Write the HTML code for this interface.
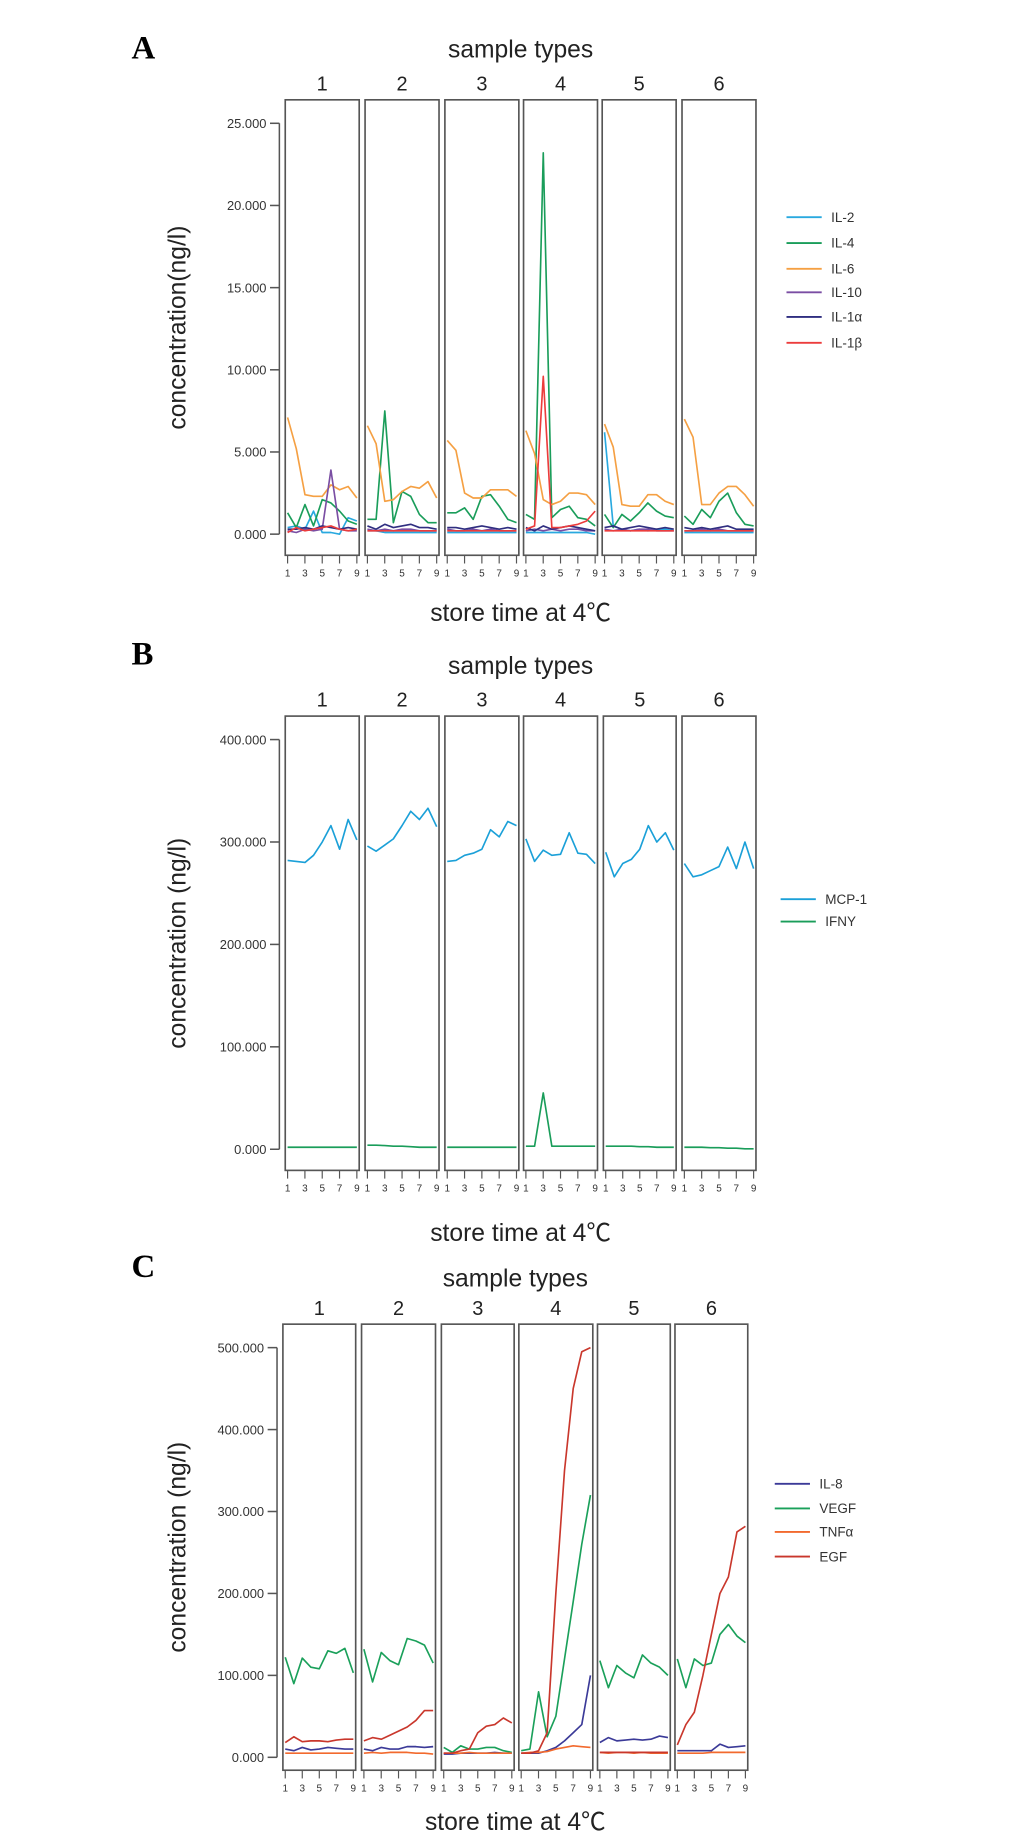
<!DOCTYPE html>
<html><head><meta charset="utf-8"><style>
html,body{margin:0;padding:0;background:#fff;}
svg{display:block;font-family:"Liberation Sans",Arial,sans-serif;}
</style></head><body>
<svg id="fig" width="1033" height="1836" viewBox="0 0 880 1564" xmlns="http://www.w3.org/2000/svg"></svg>
<script>
// ---------- Data ----------
const sampleTypes = ["1","2","3","4","5","6"];
const timeTicks = ["1","3","5","7","9"];
// Panel A (ng/l, thousands)
const aSeriesNames = ["IL-2","IL-4","IL-6","IL-10","IL-1α","IL-1β"];
const aIL2 = [[0.4,0.5,0.3,1.4,0.1,0.1,0.0,1.0,0.8],[0.2,0.2,0.1,0.1,0.1,0.1,0.1,0.1,0.1],[0.1,0.1,0.1,0.1,0.1,0.1,0.1,0.1,0.1],[0.1,0.1,0.1,0.1,0.1,0.1,0.1,0.1,0.0],[6.2,0.5,0.3,0.2,0.3,0.2,0.3,0.3,0.2],[0.1,0.1,0.1,0.1,0.1,0.1,0.1,0.1,0.1]];
const aIL4 = [[1.3,0.4,1.8,0.5,2.1,1.9,1.4,0.8,0.6],[0.9,0.9,7.5,0.7,2.6,2.3,1.2,0.7,0.7],[1.3,1.3,1.6,0.9,2.3,2.4,1.7,0.9,0.7],[1.2,0.9,23.2,1.0,1.5,1.7,1.0,0.9,0.5],[1.2,0.4,1.2,0.8,1.3,1.9,1.4,1.1,1.0],[1.1,0.6,1.5,1.0,2.0,2.5,1.3,0.6,0.5]];
const aIL6 = [[7.1,5.2,2.4,2.3,2.3,3.0,2.7,2.9,2.2],[6.6,5.5,2.0,2.1,2.6,2.9,2.8,3.2,2.2],[5.7,5.1,2.5,2.2,2.2,2.7,2.7,2.7,2.3],[6.3,4.9,2.1,1.8,2.0,2.5,2.5,2.4,1.8],[6.7,5.3,1.8,1.7,1.7,2.4,2.4,2.0,1.8],[7.0,5.9,1.8,1.8,2.5,2.9,2.9,2.4,1.7]];
const aIL10 = [[0.2,0.1,0.3,0.2,0.3,3.9,0.3,0.2,0.2],[0.3,0.2,0.3,0.2,0.3,0.3,0.2,0.2,0.2],[0.3,0.2,0.2,0.3,0.2,0.3,0.2,0.2,0.2],[0.2,0.3,0.2,0.3,0.2,0.3,0.3,0.2,0.2],[0.3,0.2,0.3,0.2,0.3,0.3,0.2,0.2,0.2],[0.2,0.2,0.3,0.2,0.3,0.2,0.2,0.2,0.2]];
const aIL1a = [[0.3,0.3,0.4,0.3,0.5,0.4,0.3,0.4,0.3],[0.5,0.3,0.6,0.4,0.5,0.6,0.4,0.4,0.3],[0.4,0.4,0.3,0.4,0.5,0.4,0.3,0.4,0.3],[0.4,0.2,0.5,0.3,0.4,0.5,0.4,0.3,0.2],[0.4,0.5,0.3,0.4,0.5,0.4,0.3,0.4,0.3],[0.4,0.3,0.4,0.3,0.4,0.5,0.3,0.3,0.3]];
const aIL1b = [[0.1,0.4,0.2,0.3,0.4,0.5,0.3,0.2,0.3],[0.2,0.2,0.2,0.2,0.2,0.2,0.2,0.2,0.2],[0.2,0.2,0.2,0.2,0.2,0.2,0.2,0.2,0.2],[0.3,0.5,9.6,0.4,0.4,0.5,0.6,0.8,1.4],[0.2,0.2,0.2,0.2,0.2,0.2,0.2,0.2,0.2],[0.2,0.2,0.2,0.2,0.2,0.2,0.2,0.2,0.2]];
const aYTicks = [0,5,10,15,20,25];
const aYTickLabels = ["0.000","5.000","10.000","15.000","20.000","25.000"];
// Panel B
const bSeriesNames = ["MCP-1","IFNY"];
const bMCP1 = [[282,281,280,287,300,316,293,322,302],[296,291,297,303,316,330,322,333,315],[281,282,287,289,293,312,305,320,316],[303,281,292,287,288,309,289,288,279],[290,266,279,283,293,316,300,309,292],[279,266,268,272,276,295,274,300,274]];
const bIFNY = [[2,2,2,2,2,2,2,2,2],[4,4,3.5,3,3,2.5,2,2,2],[2,2,2,2,2,2,2,2,2],[3,3,55,3,3,3,3,3,3],[3,3,3,3,2.5,2.5,2,2,2],[2,2,2,1.5,1.5,1,1,0.5,0.5]];
const bYTicks = [0,100,200,300,400];
const bYTickLabels = ["0.000","100.000","200.000","300.000","400.000"];
// Panel C
const cSeriesNames = ["IL-8","VEGF","TNFα","EGF"];
const cIL8 = [[10,8,12,9,10,12,11,10,10],[10,8,12,10,10,13,13,12,13],[4,4,5,5,5,5,6,5,5],[5,5,5,8,12,20,30,40,100],[18,24,20,21,22,21,22,26,24],[8,8,8,8,8,16,12,13,14]];
const cVEGF = [[122,90,121,110,108,130,127,133,103],[132,92,128,118,113,145,142,137,115],[12,6,14,10,10,12,12,8,6],[8,10,80,25,50,120,190,260,320],[118,85,112,103,97,125,115,110,100],[120,85,120,112,115,150,162,148,140]];
const cTNFa = [[5,5,5,5,5,5,5,5,5],[5,6,5,6,6,6,5,5,4],[5,5,5,6,5,5,5,5,5],[5,6,6,7,10,12,14,13,12],[6,5,6,6,5,6,5,5,5],[5,5,5,5,6,6,6,6,6]];
const cEGF = [[18,25,19,20,20,19,21,22,22],[20,24,22,27,32,37,45,57,57],[5,5,8,10,30,38,40,48,42],[5,5,8,30,200,350,450,495,500],[6,6,6,6,6,6,6,6,6],[15,40,55,100,150,200,220,275,282]];
const cYTicks = [0,100,200,300,400,500];
const cYTickLabels = ["0.000","100.000","200.000","300.000","400.000","500.000"];

// ---------- Rendering ----------
const NS = "http://www.w3.org/2000/svg";
const svg = document.getElementById('fig');
function mk(tag, attrs, parent){
  const e = document.createElementNS(NS, tag);
  for (const k in attrs) e.setAttribute(k, attrs[k]);
  (parent||svg).appendChild(e);
  return e;
}
function txt(s, attrs, parent){ const t = mk('text', attrs, parent); t.textContent = s; return t; }

function drawPanel(cfg){
  const g = mk('g', {});
  
  
  const L = txt(cfg.letter, {x:112, y:cfg.letterY, 'font-family':'"Liberation Serif",serif','font-weight':'bold','font-size':28}, g);
  
  
  const midX = (cfg.facetX[0][0] + cfg.facetX[5][1]) / 2;
  const t1 = txt('sample types', {x:midX, y:cfg.titleY, 'text-anchor':'middle','font-size':21,fill:'#222'}, g);
  
  
  const xl = txt('store time at 4℃', {x:midX, y:cfg.xLabelY, 'text-anchor':'middle','font-size':21,fill:'#222', 'font-family':'"Liberation Sans","Noto Sans CJK SC",sans-serif'}, g);
  
  
  const yl = txt(cfg.yTitle, {x:0, y:0, 'text-anchor':'middle','font-size':21,fill:'#222', transform:`translate(158,${(cfg.top+cfg.bottom)/2}) rotate(-90)`}, g);
  
  
  const yScale = v => cfg.y0 + (v - cfg.yTicks[0]) / (cfg.yTicks[cfg.yTicks.length-1] - cfg.yTicks[0]) * (cfg.y1 - cfg.y0);
  const axX = cfg.facetX[0][0] - 5;
  const ax = mk('line', {x1:axX, x2:axX, y1:yScale(cfg.yTicks[0]), y2:yScale(cfg.yTicks[cfg.yTicks.length-1]), stroke:'#555','stroke-width':1.3}, g);
  
  
  cfg.yTicks.forEach((v,i)=>{
    const y = yScale(v);
    mk('line', {x1:axX-8, x2:axX, y1:y, y2:y, stroke:'#555','stroke-width':1.3}, g);
    const tl = txt(cfg.yTickLabels[i], {x:axX-11, y:y+4, 'text-anchor':'end','font-size':11,fill:'#333'}, g);
    
    
  });
  sampleTypes.forEach((st, f)=>{
    const [xa, xb] = cfg.facetX[f];
    const fg = mk('g', {}, g);
    
    
    txt(st, {x:(xa+xb)/2, y:cfg.top-8, 'text-anchor':'middle','font-size':17,fill:'#222'}, fg);
    mk('rect', {x:xa, y:cfg.top, width:xb-xa, height:cfg.bottom-cfg.top, fill:'none', stroke:'#555','stroke-width':1.4}, fg);
    const xS = i => xa + 2 + i * (xb - xa - 4) / 8;
    for (let i=0;i<9;i+=2){
      mk('line', {x1:xS(i), x2:xS(i), y1:cfg.bottom, y2:cfg.bottom+7, stroke:'#555','stroke-width':1}, fg);
      txt(timeTicks[i/2], {x:xS(i), y:cfg.bottom+18, 'text-anchor':'middle','font-size':8.5,fill:'#333'}, fg);
    }
    cfg.series.forEach((s, si)=>{
      const pts = s.data[f].map((v,i)=> xS(i).toFixed(1)+','+yScale(v).toFixed(1)).join(' ');
      const pl = mk('polyline', {points:pts, fill:'none', stroke:s.color, 'stroke-width':1.4, 'stroke-linejoin':'round'}, fg);
      
      
    });
  });
  const lg = mk('g', {}, g);
  
  
  cfg.series.forEach((s, si)=>{
    const y = cfg.legendY[si];
    const le = mk('g', {}, lg);
    
    
    mk('line', {x1:cfg.legendX, x2:cfg.legendX+30, y1:y, y2:y, stroke:s.color,'stroke-width':1.6}, le);
    txt(s.label, {x:cfg.legendX+38, y:y+4, 'font-size':11.5, fill:'#333'}, le);
  });
}

drawPanel({
  name:'panel-a', letter:'A', letterY:50, titleY:49, xLabelY:529, yTitle:'concentration(ng/l)',
  top:85, bottom:473, y0:455, y1:105, yTicks:aYTicks, yTickLabels:aYTickLabels,
  facetX:[[243,306],[311,374],[379,442],[446,509],[513,576],[581,644]],
  legendX:670, legendY:[185,207,229,249,270,292],
  series:[
    {key:'il2', label:aSeriesNames[0], color:'#29a9df', data:aIL2},
    {key:'il4', label:aSeriesNames[1], color:'#1a9d5a', data:aIL4},
    {key:'il6', label:aSeriesNames[2], color:'#f5a043', data:aIL6},
    {key:'il10', label:aSeriesNames[3], color:'#7a4ea3', data:aIL10},
    {key:'il1a', label:aSeriesNames[4], color:'#2f2e80', data:aIL1a},
    {key:'il1b', label:aSeriesNames[5], color:'#ec3c3c', data:aIL1b}
  ]
});
drawPanel({
  name:'panel-b', letter:'B', letterY:566, titleY:574, xLabelY:1057, yTitle:'concentration (ng/l)',
  top:610, bottom:997, y0:979, y1:630, yTicks:bYTicks, yTickLabels:bYTickLabels,
  facetX:[[243,306],[311,374],[379,442],[446,509],[514,576],[581,644]],
  legendX:665, legendY:[766,785],
  series:[
    {key:'mcp1', label:bSeriesNames[0], color:'#1ba0d8', data:bMCP1},
    {key:'ifny', label:bSeriesNames[1], color:'#1a9d5a', data:bIFNY}
  ]
});
drawPanel({
  name:'panel-c', letter:'C', letterY:1088, titleY:1096, xLabelY:1559, yTitle:'concentration (ng/l)',
  top:1128, bottom:1508, y0:1497, y1:1148, yTicks:cYTicks, yTickLabels:cYTickLabels,
  facetX:[[241,303],[308,371],[376,438],[442,505],[509,571],[575,637]],
  legendX:660, legendY:[1264,1285,1305,1326],
  series:[
    {key:'il8', label:cSeriesNames[0], color:'#3b3a98', data:cIL8},
    {key:'vegf', label:cSeriesNames[1], color:'#1aa05a', data:cVEGF},
    {key:'tnfa', label:cSeriesNames[2], color:'#f26a2e', data:cTNFa},
    {key:'egf', label:cSeriesNames[3], color:'#c9372c', data:cEGF}
  ]
});
</script>
</body></html>
